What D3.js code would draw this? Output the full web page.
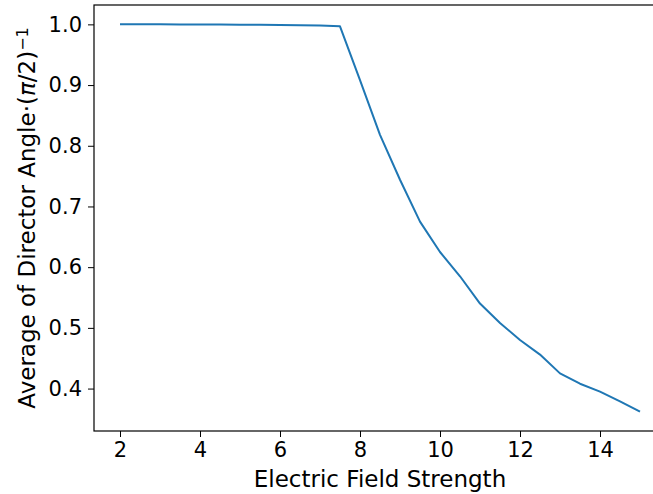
<!DOCTYPE html>
<html>
<head>
<meta charset="utf-8">
<script src="https://cdn.jsdelivr.net/npm/d3@7"></script>
<style>
    body { margin: 0; background: #fff; }
    svg { display: block; font-family: "DejaVu Sans", sans-serif; }
</style>
</head>
<body>
<svg id="chart"></svg>
<script>
// Field strengths and averaged director angle (normalised by pi/2)
const fieldStrength = [2, 2.5, 3, 3.5, 4, 4.5, 5, 5.5, 6, 6.5, 7, 7.5,
    8, 8.5, 9, 9.5, 10, 10.5, 11, 11.5, 12, 12.5, 13, 13.5, 14, 14.5, 15];
const angleAvg = [1.0, 1.0, 1.0, 0.9999, 0.9998, 0.9997, 0.9995, 0.9993, 0.999, 0.9987, 0.9982, 0.9967,
    0.908, 0.818, 0.744, 0.675, 0.625, 0.585, 0.540, 0.508, 0.480, 0.456, 0.425, 0.408, 0.395, 0.379, 0.362];
const xTicks = [2, 4, 6, 8, 10, 12, 14];
const yTicks = [0.4, 0.5, 0.6, 0.7, 0.8, 0.9, 1.0];

const width = 653, height = 494;
const margin = { left: 94, top: 5, right: -13, bottom: 63 };
const tickFont = "21px";
const labelFont = "23px";

const svg = d3.select("#chart").attr("width", width).attr("height", height);

const data = fieldStrength.map((x, i) => ({ x, y: angleAvg[i] }));

// matplotlib-style 5% padding
const xPad = (15 - 2) * 0.05;
const yPad = (1.0 - 0.362) * 0.05;

const x = d3.scaleLinear()
    .domain([2 - xPad, 15 + xPad])
    .range([margin.left, width - margin.right]);
const y = d3.scaleLinear()
    .domain([0.362 - yPad, 1.0 + yPad])
    .range([height - margin.bottom, margin.top]);

const xAxis = svg.append("g")
    .attr("transform", `translate(0,${height - margin.bottom})`)
    .call(d3.axisBottom(x).tickValues(xTicks).tickFormat(d3.format("d")).tickSize(6).tickPadding(5).tickSizeOuter(0));
const yAxis = svg.append("g")
    .attr("transform", `translate(${margin.left},0)`)
    .call(d3.axisLeft(y).tickValues(yTicks).tickFormat(d3.format(".1f")).tickSize(6).tickPadding(6).tickSizeOuter(0));

[xAxis, yAxis].forEach(g => {
    g.select(".domain").remove();
    g.selectAll(".tick line").attr("stroke", "#000").attr("stroke-width", 1);
    g.selectAll(".tick text").attr("fill", "#000").style("font-size", tickFont).style("font-family", "DejaVu Sans");
});

// axes frame
svg.append("rect")
    .attr("x", margin.left)
    .attr("y", margin.top)
    .attr("width", width - margin.right - margin.left)
    .attr("height", height - margin.bottom - margin.top)
    .attr("fill", "none")
    .attr("stroke", "#000")
    .attr("stroke-width", 1.2);

const line = d3.line().x(d => x(d.x)).y(d => y(d.y));

svg.append("path")
    .datum(data)
    .attr("fill", "none")
    .attr("stroke", "#1f77b4")
    .attr("stroke-width", 2)
    .attr("stroke-linejoin", "round")
    .attr("d", line);

// axis labels
svg.append("text")
    .attr("x", (margin.left + width - margin.right) / 2)
    .attr("y", 487)
    .attr("text-anchor", "middle")
    .style("font-size", labelFont)
    .text("Electric Field Strength");

const yLab = svg.append("text")
    .attr("transform", `translate(35,${(margin.top + height - margin.bottom) / 2}) rotate(-90)`)
    .attr("text-anchor", "middle")
    .style("font-size", labelFont);
yLab.append("tspan").text("Average of Director Angle·(");
yLab.append("tspan").style("font-style", "italic").text("π");
yLab.append("tspan").text("/2)");
yLab.append("tspan").attr("dy", "-0.45em").style("font-size", "16px").text("−1");
</script>
</body>
</html>
